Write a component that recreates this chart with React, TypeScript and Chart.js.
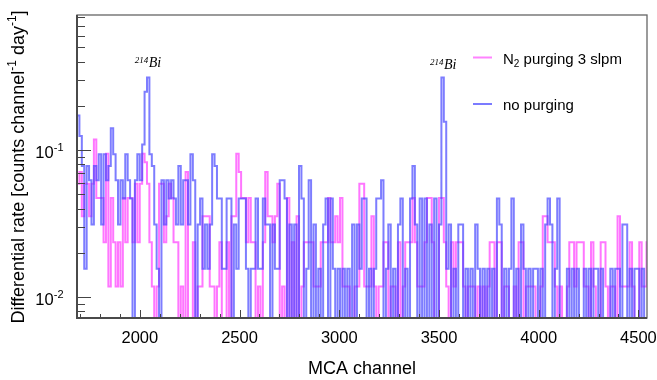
import React, { useEffect, useRef } from 'react';
import { Chart, registerables } from 'chart.js';

Chart.register(...registerables);

// ---- histogram binning (MCA channels) ----
const BIN_START = 1685;
const BIN_WIDTH = 12.1;

// ---- axis ranges ----
const X_MIN = 1685;
const X_MAX = 4543;
const Y_MIN = 0.0072;
const Y_MAX = 0.829;

// ---- rate per count (counts channel^-1 day^-1 per recorded count) ----
const RATE_PER_COUNT_N2 = 0.0118;
const RATE_PER_COUNT_NO_PURGING = 0.0156;

// ---- counts per bin, "N2 purging 3 slpm" ----
const countsN2 = [
  5, 5, 6, 3, 5, 5, 3, 5, 10, 4, 4, 4, 2, 8, 1, 4, 2, 1, 2, 1,
  4, 2, 4, 4, 2, 5, 2, 5, 8, 7, 5, 2, 1, 0, 1, 5, 5, 2, 3, 5,
  4, 2, 2, 0, 1, 0, 6, 0, 0, 2, 0, 1, 1, 3, 3, 3, 1, 1, 0, 1,
  2, 0, 0, 2, 0, 3, 3, 8, 6, 4, 4, 2, 4, 2, 2, 0, 1, 0, 2, 6,
  3, 3, 2, 3, 5, 0, 1, 0, 4, 0, 2, 0, 3, 0, 1, 2, 2, 2, 2, 1,
  1, 1, 2, 2, 2, 4, 2, 2, 3, 2, 4, 1, 1, 1, 0, 0, 1, 1, 5, 5,
  1, 1, 1, 3, 1, 0, 1, 1, 2, 2, 0, 1, 1, 0, 2, 0, 1, 2, 2, 2,
  4, 2, 1, 1, 1, 2, 4, 4, 2, 0, 0, 4, 4, 2, 1, 0, 2, 1, 2, 2,
  2, 1, 0, 1, 1, 1, 0, 1, 0, 1, 0, 1, 2, 2, 0, 2, 2, 0, 1, 1,
  0, 0, 1, 0, 2, 2, 0, 1, 1, 1, 1, 0, 0, 1, 3, 3, 2, 2, 2, 1,
  0, 1, 0, 0, 1, 2, 2, 1, 2, 2, 2, 1, 1, 0, 2, 1, 0, 0, 2, 2,
  1, 0, 1, 1, 0, 3, 1, 1, 1, 1, 2, 1, 0, 0, 2, 1, 1, 2, 1, 1,
];

// ---- counts per bin, "no purging" ----
const countsNoPurging = [
  8, 11, 8, 5, 1, 5, 4, 2, 5, 4, 6, 2, 6, 4, 5, 9, 6, 4, 2, 4,
  3, 6, 4, 3, 0, 4, 6, 4, 7, 16, 20, 6, 5, 2, 1, 0, 4, 2, 4, 3,
  4, 3, 2, 5, 2, 4, 4, 2, 6, 4, 0, 2, 3, 1, 2, 1, 2, 6, 5, 3,
  3, 1, 1, 3, 3, 0, 2, 1, 3, 3, 3, 1, 0, 1, 1, 3, 1, 1, 3, 2,
  2, 0, 2, 1, 1, 4, 4, 3, 0, 2, 0, 2, 0, 5, 3, 0, 1, 4, 0, 2,
  0, 1, 0, 2, 3, 0, 3, 1, 0, 1, 0, 1, 0, 1, 0, 2, 0, 2, 1, 3,
  3, 0, 1, 0, 1, 3, 3, 4, 0, 1, 2, 0, 1, 0, 2, 3, 0, 1, 0, 3,
  5, 2, 0, 3, 0, 3, 0, 2, 0, 3, 0, 2, 20, 10, 1, 2, 0, 1, 0, 2,
  2, 0, 1, 0, 1, 0, 2, 1, 0, 1, 0, 1, 0, 1, 0, 3, 2, 0, 1, 0,
  1, 3, 0, 1, 0, 2, 1, 0, 1, 0, 1, 1, 0, 1, 0, 2, 3, 2, 0, 1,
  3, 0, 0, 0, 1, 0, 1, 0, 1, 0, 0, 1, 0, 1, 0, 1, 1, 0, 1, 0,
  0, 0, 1, 0, 1, 1, 0, 2, 2, 0, 1, 0, 1, 1, 0, 1, 0, 0, 0, 0,
];

// ---- ticks ----
const xMajorTicks = [2000, 2500, 3000, 3500, 4000, 4500];
const xTickLabels = ['2000', '2500', '3000', '3500', '4000', '4500'];
const xMinorTicks = [
  1700, 1800, 1900, 2100, 2200, 2300, 2400, 2600, 2700, 2800, 2900,
  3100, 3200, 3300, 3400, 3600, 3700, 3800, 3900, 4100, 4200, 4300, 4400,
];
const yMajorTicks = [0.1, 0.01];
const yTickBases = ['10', '10'];
const yTickExps = ['-1', '-2'];
const yMinorTicks = [
  0.008, 0.009, 0.02, 0.03, 0.04, 0.05, 0.06, 0.07, 0.08, 0.09,
  0.2, 0.3, 0.4, 0.5, 0.6, 0.7, 0.8,
];

// ---- series meta ----
const seriesLabels = ['N2 purging 3 slpm', 'no purging'];
const peakLabelChannels = [2035, 3515];

const ZERO_FLOOR = 1e-5; // empty bins fall off the bottom of the log axis

const SANS = '"Liberation Sans", Arial, Helvetica, sans-serif';
const SERIF = '"Liberation Serif", "Times New Roman", serif';

function toSteps(counts: number[], perCount: number) {
  const pts = counts.map((c, i) => ({
    x: BIN_START + i * BIN_WIDTH,
    y: c > 0 ? c * perCount : ZERO_FLOOR,
  }));
  const last = counts.length - 1;
  pts.push({ x: BIN_START + counts.length * BIN_WIDTH, y: pts[last].y });
  return pts;
}

type Piece = { t: string; mode?: 'sup' | 'sub' };

function drawPieces(ctx: CanvasRenderingContext2D, pieces: Piece[], x: number, y: number, size: number, smallSize: number, family: string, style = '', align: 'left' | 'right' | 'center' = 'left') {
  const fontMain = `${style} ${size}px ${family}`.trim();
  const fontSmall = `${style} ${smallSize}px ${family}`.trim();
  let total = 0;
  const widths = pieces.map((p) => {
    ctx.font = p.mode ? fontSmall : fontMain;
    const w = ctx.measureText(p.t).width;
    total += w;
    return w;
  });
  let cx = align === 'left' ? x : align === 'right' ? x - total : x - total / 2;
  ctx.textAlign = 'left';
  ctx.textBaseline = 'alphabetic';
  pieces.forEach((p, i) => {
    ctx.font = p.mode ? fontSmall : fontMain;
    const dy = p.mode === 'sup' ? -size * 0.42 : p.mode === 'sub' ? size * 0.22 : 0;
    ctx.fillText(p.t, cx, y + dy);
    cx += widths[i];
  });
  return total;
}

const overlayPlugin = {
  id: 'rootStyleOverlay',
  afterDatasetsDraw(chart: any) {
    const { ctx, chartArea: a } = chart;
    const xs = chart.scales.x;
    const ys = chart.scales.y;
    ctx.save();

    // ticks (inside the frame, ROOT style)
    ctx.strokeStyle = '#444';
    ctx.lineWidth = 1;
    ctx.beginPath();
    xMinorTicks.forEach((v) => {
      const px = Math.round(xs.getPixelForValue(v)) + 0.5;
      ctx.moveTo(px, a.bottom);
      ctx.lineTo(px, a.bottom - 4);
    });
    xMajorTicks.forEach((v) => {
      const px = Math.round(xs.getPixelForValue(v)) + 0.5;
      ctx.moveTo(px, a.bottom);
      ctx.lineTo(px, a.bottom - 8);
    });
    yMinorTicks.forEach((v) => {
      const py = Math.round(ys.getPixelForValue(v)) + 0.5;
      ctx.moveTo(a.left, py);
      ctx.lineTo(a.left + 8, py);
    });
    yMajorTicks.forEach((v) => {
      const py = Math.round(ys.getPixelForValue(v)) + 0.5;
      ctx.moveTo(a.left, py);
      ctx.lineTo(a.left + 14, py);
    });
    ctx.stroke();

    // frame
    ctx.strokeStyle = '#666';
    ctx.lineWidth = 1.3;
    ctx.strokeRect(a.left, a.top, a.right - a.left, a.bottom - a.top);
    ctx.strokeStyle = '#4a4a4a';
    ctx.lineWidth = 2;
    ctx.beginPath();
    ctx.moveTo(a.left, a.top);
    ctx.lineTo(a.left, a.bottom);
    ctx.lineTo(a.right, a.bottom);
    ctx.stroke();

    // tick labels
    ctx.fillStyle = '#000';
    ctx.font = `16.5px ${SANS}`;
    ctx.textAlign = 'center';
    ctx.textBaseline = 'alphabetic';
    xMajorTicks.forEach((v, i) => {
      ctx.fillText(xTickLabels[i], xs.getPixelForValue(v), 343);
    });
    yMajorTicks.forEach((v, i) => {
      const py = ys.getPixelForValue(v);
      drawPieces(ctx, [{ t: yTickBases[i] }, { t: yTickExps[i], mode: 'sup' }], 63.5, py + 7.5, 16.5, 11, SANS, '', 'right');
    });

    // axis titles
    ctx.font = `18px ${SANS}`;
    ctx.textAlign = 'center';
    ctx.fillText('MCA channel', (a.left + a.right) / 2, 374);

    ctx.save();
    ctx.translate(23.5, 167);
    ctx.rotate(-Math.PI / 2);
    drawPieces(
      ctx,
      [
        { t: 'Differential rate [counts channel' },
        { t: '-1', mode: 'sup' },
        { t: ' day' },
        { t: '-1', mode: 'sup' },
        { t: ']' },
      ],
      0, 0, 18, 12, SANS, '', 'center'
    );
    ctx.restore();

    // peak annotations
    ctx.fillStyle = '#000';
    const peakBaselines = [66.5, 68.5];
    peakLabelChannels.forEach((ch, i) => {
      const px = xs.getPixelForValue(ch) - 12;
      ctx.font = `italic 9px ${SERIF}`;
      ctx.textAlign = 'left';
      ctx.fillText('214', px, peakBaselines[i] - 3.5);
      const w = ctx.measureText('214').width;
      ctx.font = `italic 14px ${SERIF}`;
      ctx.fillText('Bi', px + w + 0.5, peakBaselines[i]);
    });

    // legend
    const legendColors = ['rgba(255,90,255,0.75)', 'rgba(90,90,255,0.8)'];
    const legendY = [57.5, 104];
    legendColors.forEach((c, i) => {
      ctx.strokeStyle = c;
      ctx.lineWidth = 2;
      ctx.beginPath();
      ctx.moveTo(473, legendY[i]);
      ctx.lineTo(492, legendY[i]);
      ctx.stroke();
    });
    ctx.fillStyle = '#000';
    drawPieces(ctx, [{ t: 'N' }, { t: '2', mode: 'sub' }, { t: ' purging 3 slpm' }], 503, 64, 15, 10, SANS);
    drawPieces(ctx, [{ t: seriesLabels[1] }], 503, 109.5, 15, 10, SANS);

    ctx.restore();
  },
};

export default function App() {
  const canvasRef = useRef<HTMLCanvasElement | null>(null);

  useEffect(() => {
    const canvas = canvasRef.current;
    if (!canvas) return;
    const chart = new Chart(canvas, {
      type: 'line',
      data: {
        datasets: [
          {
            label: seriesLabels[1],
            data: toSteps(countsNoPurging, RATE_PER_COUNT_NO_PURGING),
            stepped: 'after',
            borderColor: 'rgba(70,70,255,0.7)',
            borderWidth: 2,
            pointRadius: 0,
            fill: false,
          },
          {
            label: seriesLabels[0],
            data: toSteps(countsN2, RATE_PER_COUNT_N2),
            stepped: 'after',
            borderColor: 'rgba(255,60,255,0.7)',
            borderWidth: 2,
            pointRadius: 0,
            fill: false,
          },
        ],
      },
      options: {
        animation: false,
        responsive: false,
        maintainAspectRatio: false,
        devicePixelRatio: 1,
        layout: { padding: { left: 0, top: 15, right: 10, bottom: 0 } },
        plugins: { legend: { display: false }, tooltip: { enabled: false } },
        events: [],
        scales: {
          x: {
            type: 'linear',
            min: X_MIN,
            max: X_MAX,
            grid: { display: false },
            border: { display: false },
            ticks: { display: false },
            afterFit: (s: any) => {
              s.height = 62;
            },
          },
          y: {
            type: 'logarithmic',
            min: Y_MIN,
            max: Y_MAX,
            grid: { display: false },
            border: { display: false },
            ticks: { display: false },
            afterFit: (s: any) => {
              s.width = 77;
            },
          },
        },
      },
      plugins: [overlayPlugin],
    } as any);
    return () => chart.destroy();
  }, []);

  return (
    <div style={{ position: 'fixed', left: 0, top: 0, width: 657, height: 380, background: '#fff' }}>
      <canvas ref={canvasRef} width={657} height={380} style={{ display: 'block', width: 657, height: 380 }} />
    </div>
  );
}
